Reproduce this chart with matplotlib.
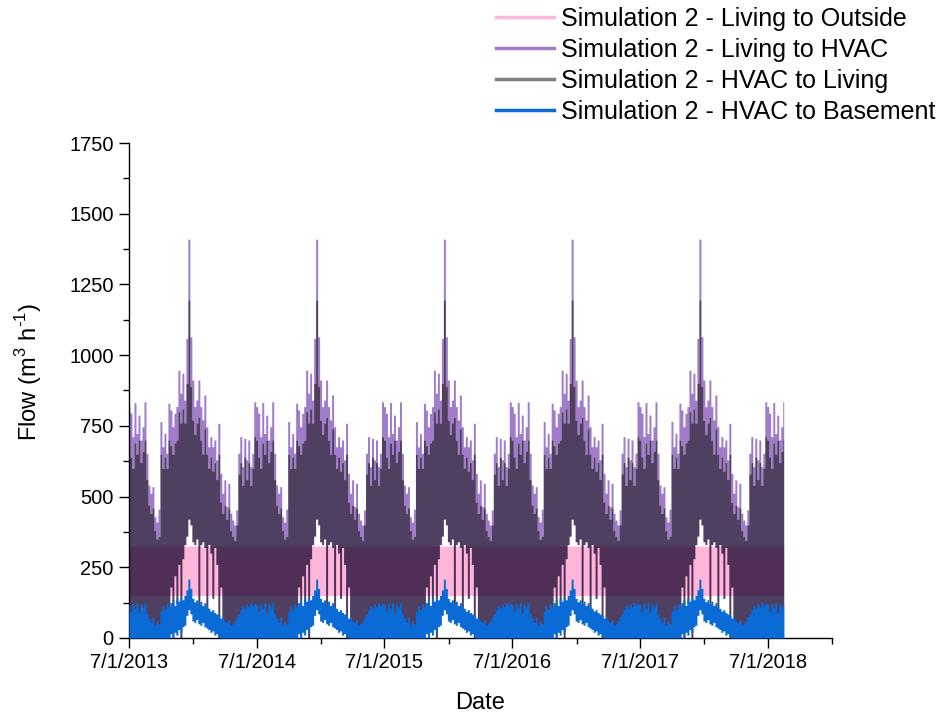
import numpy as np
import matplotlib.pyplot as plt
import matplotlib.dates as mdates
from matplotlib.lines import Line2D

plt.rcParams['font.family'] = ['Liberation Sans', 'DejaVu Sans']
plt.rcParams['mathtext.fontset'] = 'custom'
plt.rcParams['mathtext.rm'] = 'Liberation Sans'

# one simulated year, Jul 1 -> Jun 30, 64 samples (~5.7 days each);
# the simulation repeats the same weather year, so it is reused every year
living_hvac_hi = [818, 795, 712, 832, 723, 788, 700, 747, 835, 653,
                  541, 512, 535, 429, 410, 455, 765, 676, 723, 653,
                  830, 806, 747, 794, 818, 947, 865, 936, 841, 1059,
                  1410, 1065, 912, 818, 841, 912, 818, 771, 859, 747,
                  676, 712, 676, 700, 630, 759, 582, 512, 559, 465,
                  547, 441, 417, 400, 453, 653, 712, 606, 706, 630,
                  700, 606, 653, 835]
hvac_living_hi = [700, 640, 600, 690, 650, 700, 620, 660, 700, 560,
                  470, 440, 460, 380, 350, 360, 650, 600, 640, 600,
                  700, 680, 650, 690, 700, 800, 760, 810, 760, 900,
                  1195, 890, 770, 720, 760, 780, 700, 650, 740, 650,
                  600, 640, 590, 620, 560, 650, 480, 440, 470, 420,
                  460, 380, 360, 345, 400, 580, 620, 540, 640, 560,
                  620, 540, 600, 712]
hvac_living_lo = [0, 0, 0, 0, 0, 0, 0, 0, 0, 0,
                  0, 0, 0, 0, 0, 0, 0, 0, 0, 0,
                  0, 180, 0, 220, 120, 260, 0, 280, 330, 360,
                  420, 400, 340, 330, 350, 110, 330, 340, 320, 90,
                  330, 300, 140, 320, 260, 0, 180, 0, 0, 0,
                  0, 0, 0, 0, 0, 0, 0, 0, 0, 0,
                  0, 0, 0, 0]
basement_hi = [118, 95, 122, 105, 125, 90, 120, 110, 124, 85,
               70, 55, 75, 45, 60, 50, 95, 115, 100, 120,
               110, 125, 135, 115, 140, 130, 145, 135, 150, 170,
               208, 175, 140, 128, 135, 120, 130, 115, 125, 110,
               105, 95, 100, 90, 85, 80, 70, 75, 60, 55,
               65, 45, 50, 60, 75, 85, 100, 115, 105, 120,
               110, 125, 115, 122]
basement_lo = [0, 0, 0, 0, 0, 0, 0, 0, 0, 0,
               0, 0, 0, 0, 0, 0, 0, 0, 0, 0,
               0, 15, 0, 20, 10, 30, 20, 40, 45, 80,
               100, 85, 60, 55, 65, 50, 45, 55, 40, 35,
               30, 20, 25, 10, 15, 5, 0, 0, 0, 0,
               0, 0, 0, 0, 0, 0, 0, 0, 0, 0,
               0, 0, 0, 0]
outside_lo = 150
outside_hi = 325

n_years = 5
n_tail = 9   # run stops mid August 2018

tick_dates = ['2013-07-01', '2014-07-01', '2015-07-01', '2016-07-01', '2017-07-01', '2018-07-01']
tick_labels = ['7/1/2013', '7/1/2014', '7/1/2015', '7/1/2016', '7/1/2017', '7/1/2018']
minor_dates = ['2014-01-01', '2015-01-01', '2016-01-01', '2017-01-01', '2018-01-01', '2019-01-01']

labels = ['Simulation 2 - Living to Outside', 'Simulation 2 - Living to HVAC',
          'Simulation 2 - HVAC to Living', 'Simulation 2 - HVAC to Basement']
colors = ['#ffb6d9', '#a07ccb', '#808080', '#0a6ad6']


def run(a):
    a = np.asarray(a, dtype=float)
    return np.concatenate([np.tile(a, n_years), a[:n_tail]])


pv = run(living_hvac_hi)
gh = run(hvac_living_hi)
gl = run(hvac_living_lo)
bh = run(basement_hi)
bl = run(basement_lo)

n = len(pv)
secs = (np.arange(n) * 365.25 / 64 * 86400).astype('timedelta64[s]')
t = mdates.date2num(np.datetime64('2013-07-01T00:00:00') + secs)

fig = plt.figure(figsize=(9.47, 7.19), dpi=100)
ax = fig.add_axes([0.1362, 0.1127, 0.7424, 0.6884])

ax.fill_between(t, outside_lo, outside_hi, step='mid', color=colors[0], lw=0, zorder=1)
ax.fill_between(t, gh, pv, step='mid', color=colors[1], lw=0, zorder=2)
ax.fill_between(t, gl, gh, step='mid', color=(20/255, 0, 45/255), alpha=0.75, lw=0, zorder=3)
ax.fill_between(t, bl, bh, step='mid', color=colors[3], lw=0, zorder=4)

ax.set_ylim(0, 1750)
ax.set_yticks(np.arange(0, 1751, 250))
ax.set_yticks(np.arange(125, 1750, 250), minor=True)
ax.set_xlim(mdates.datestr2num('2013-07-01'), mdates.datestr2num('2019-01-01'))
ax.set_xticks([mdates.datestr2num(d) for d in tick_dates])
ax.set_xticklabels(tick_labels)
ax.set_xticks([mdates.datestr2num(d) for d in minor_dates], minor=True)

for s in ['top', 'right']:
    ax.spines[s].set_visible(False)
for s in ['left', 'bottom']:
    ax.spines[s].set_linewidth(1.0)
ax.tick_params(which='major', direction='out', length=7, width=1.0, labelsize=14.5, pad=4)
ax.tick_params(which='minor', direction='out', length=4, width=1.0)

ax.set_xlabel('Date', fontsize=17, labelpad=14)
ax.set_ylabel(r'Flow (m$^{\mathregular{3}}$ h$^{\text{-1}}$)', fontsize=17)
ax.yaxis.set_label_coords(-0.121, 0.537)

handles = [Line2D([], [], color=c, lw=2.5) for c in colors]
fig.legend(handles, labels, loc='upper left', bbox_to_anchor=(0.5238, 0.990),
           frameon=False, fontsize=18, handlelength=2.3, handletextpad=0.3,
           labelspacing=0.28, borderpad=0, borderaxespad=0)

fig.savefig('out.png', dpi=100)
